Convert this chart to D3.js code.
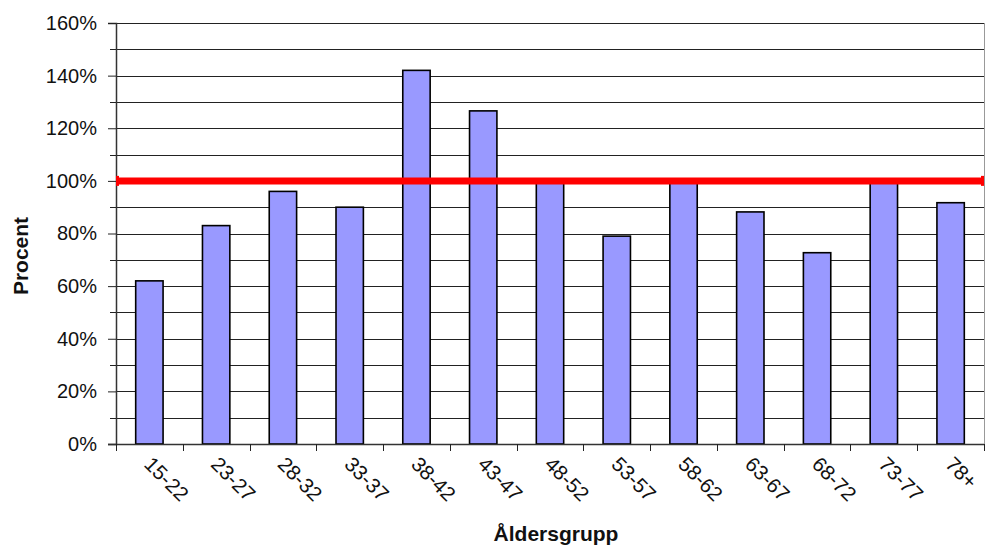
<!DOCTYPE html>
<html>
<head>
<meta charset="utf-8">
<script src="https://cdn.jsdelivr.net/npm/d3@7"></script>
<style>
  html, body { margin: 0; padding: 0; background: #fff; }
  svg { display: block; font-family: Arial, "Liberation Sans", sans-serif; }
</style>
</head>
<body>
<svg id="chart" width="985" height="548"></svg>
<script>
// Age groups and their share in percent
const categories = ["15-22", "23-27", "28-32", "33-37", "38-42", "43-47", "48-52",
                    "53-57", "58-62", "63-67", "68-72", "73-77", "78+"];
const values = [62, 83, 96, 90, 142, 126.6, 100, 79, 100, 88.2, 72.7, 100, 91.7];
const referenceLevel = 100;
const yMajorTicks = [0, 20, 40, 60, 80, 100, 120, 140, 160];
const yMinorTicks = [10, 30, 50, 70, 90, 110, 130, 150];

const svg = d3.select("#chart");
const plotLeft = 116, plotRight = 984, plotTop = 23, plotBottom = 444;

const x = d3.scaleBand()
  .domain(categories)
  .range([plotLeft, plotRight])
  .paddingInner(0.59)
  .paddingOuter(0.295);

const y = d3.scaleLinear().domain([0, 160]).range([plotBottom, plotTop]);

// horizontal gridlines every 10%
svg.append("g")
  .selectAll("line")
  .data(yMajorTicks.concat(yMinorTicks))
  .join("line")
  .attr("x1", plotLeft).attr("x2", plotRight)
  .attr("y1", d => Math.round(y(d)) + 0.5).attr("y2", d => Math.round(y(d)) + 0.5)
  .attr("stroke", "#222").attr("stroke-width", 1);

// right edge of the plot area
svg.append("line")
  .attr("x1", plotRight + 0.5).attr("x2", plotRight + 0.5)
  .attr("y1", plotTop).attr("y2", plotBottom)
  .attr("stroke", "#999").attr("stroke-width", 1);

// bars
svg.append("g")
  .selectAll("rect")
  .data(values)
  .join("rect")
  .attr("x", (d, i) => x(categories[i]))
  .attr("width", x.bandwidth())
  .attr("y", d => y(d))
  .attr("height", d => y(0) - y(d))
  .attr("fill", "#9999FF")
  .attr("stroke", "#000")
  .attr("stroke-width", 1.6);

// y axis with labelled major ticks
const yAxis = d3.axisLeft(y)
  .tickValues(yMajorTicks)
  .tickFormat(d => d + "%")
  .tickSize(8)
  .tickPadding(11);
const gy = svg.append("g")
  .attr("transform", `translate(${plotLeft},0)`)
  .call(yAxis);
gy.select(".domain").attr("stroke", "#333").attr("stroke-width", 1.5);
gy.selectAll(".tick line").attr("stroke", "#222");
gy.selectAll(".tick text")
  .attr("font-size", 20).attr("fill", "#111")
  .attr("font-family", "Arial, 'Liberation Sans', sans-serif");

// minor ticks on the y axis
svg.append("g")
  .selectAll("line")
  .data(yMinorTicks)
  .join("line")
  .attr("x1", plotLeft - 6).attr("x2", plotLeft)
  .attr("y1", d => Math.round(y(d)) + 0.5).attr("y2", d => Math.round(y(d)) + 0.5)
  .attr("stroke", "#222");

// x axis baseline and ticks at category boundaries
const boundaries = categories.map(c => x(c) - (x.step() - x.bandwidth()) / 2).concat([plotRight]);
svg.append("line")
  .attr("x1", plotLeft - 8).attr("x2", plotRight)
  .attr("y1", plotBottom + 0.5).attr("y2", plotBottom + 0.5)
  .attr("stroke", "#333").attr("stroke-width", 1.5);
svg.append("g")
  .selectAll("line")
  .data(boundaries)
  .join("line")
  .attr("x1", d => Math.round(d) + 0.5).attr("x2", d => Math.round(d) + 0.5)
  .attr("y1", plotBottom).attr("y2", plotBottom + 7)
  .attr("stroke", "#222");

// rotated category labels
svg.append("g")
  .selectAll("text")
  .data(categories)
  .join("text")
  .attr("transform", d => `translate(${x(d) + x.bandwidth() / 2 + 4},455) rotate(45)`)
  .attr("dy", "0.72em")
  .attr("font-size", 20.5)
  .attr("fill", "#111")
  .text(d => d);

// 100% reference line
const refY = y(referenceLevel);
svg.append("line")
  .attr("x1", plotLeft).attr("x2", plotRight)
  .attr("y1", refY).attr("y2", refY)
  .attr("stroke", "#FF0000").attr("stroke-width", 7);
svg.append("g")
  .selectAll("rect")
  .data([plotLeft, plotRight - 3])
  .join("rect")
  .attr("x", d => d).attr("width", 3)
  .attr("y", refY - 5).attr("height", 10)
  .attr("fill", "#FF0000");

// axis titles
svg.append("text")
  .attr("transform", `translate(28,256) rotate(-90)`)
  .attr("text-anchor", "middle")
  .attr("font-size", 21).attr("font-weight", "bold")
  .attr("fill", "#111")
  .text("Procent");

svg.append("text")
  .attr("x", 556).attr("y", 541)
  .attr("text-anchor", "middle")
  .attr("font-size", 21).attr("font-weight", "bold")
  .attr("fill", "#111")
  .text("Åldersgrupp");
</script>
</body>
</html>
